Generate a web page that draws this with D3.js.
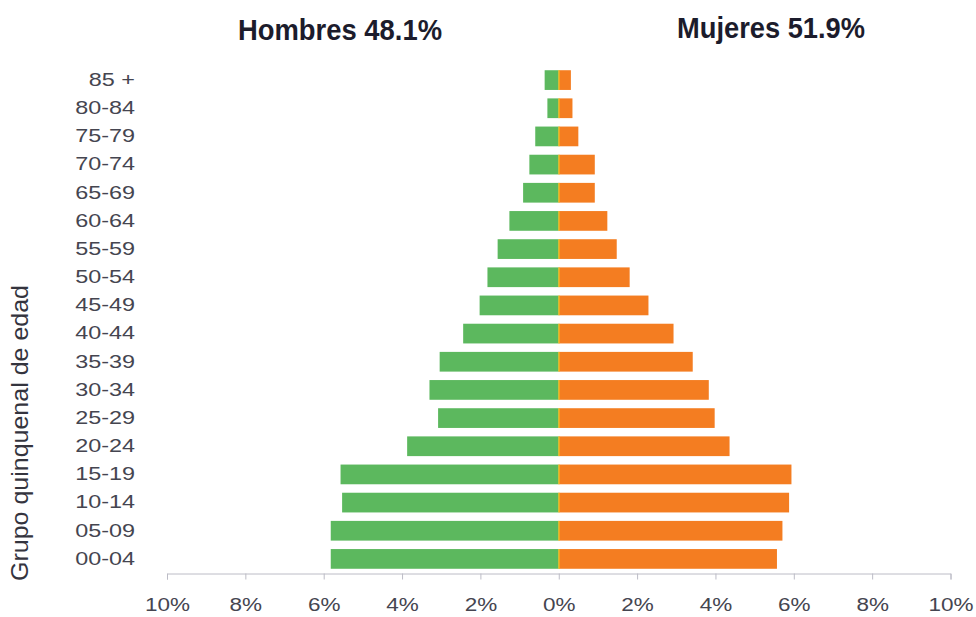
<!DOCTYPE html>
<html>
<head>
<meta charset="utf-8">
<script src="https://cdn.jsdelivr.net/npm/d3@7"></script>
<style>
  html, body { margin: 0; padding: 0; background: #ffffff; }
  svg { display: block; font-family: "Liberation Sans", Arial, sans-serif; }
</style>
</head>
<body>
<svg id="chart" width="976" height="617"></svg>
<script>
// ---- data ----
const ageGroups = ["85 +", "80-84", "75-79", "70-74", "65-69", "60-64", "55-59", "50-54", "45-49",
                   "40-44", "35-39", "30-34", "25-29", "20-24", "15-19", "10-14", "05-09", "00-04"];
const menValues   = [0.36, 0.29, 0.60, 0.75, 0.91, 1.26, 1.56, 1.82, 2.02,
                     2.44, 3.04, 3.30, 3.08, 3.87, 5.57, 5.53, 5.82, 5.82];
const womenValues = [0.31, 0.35, 0.50, 0.92, 0.92, 1.24, 1.48, 1.81, 2.29,
                     2.93, 3.42, 3.83, 3.98, 4.36, 5.94, 5.88, 5.71, 5.57];
const xTicks = [-10, -8, -6, -4, -2, 0, 2, 4, 6, 8, 10];
const titleMen = "Hombres 48.1%";
const titleWomen = "Mujeres 51.9%";
const yTitle = "Grupo quinquenal de edad";

// ---- layout ----
const svg = d3.select("#chart");
const axisY = 573.5;
const x = d3.scaleLinear().domain([-10, 10]).range([167, 950.5]);
const y = d3.scaleBand().domain(ageGroups).range([66, 573]).paddingInner(0.3).paddingOuter(0.15);

const green = "#5cb85e";
const orange = "#f47d21";

// bars - men
svg.append("g").selectAll("rect")
  .data(ageGroups.map((g, i) => ({ g, v: menValues[i] })))
  .join("rect")
  .attr("x", d => x(-d.v))
  .attr("y", d => y(d.g))
  .attr("width", d => x(0) - x(-d.v))
  .attr("height", y.bandwidth())
  .attr("fill", green);

// bars - women
svg.append("g").selectAll("rect")
  .data(ageGroups.map((g, i) => ({ g, v: womenValues[i] })))
  .join("rect")
  .attr("x", x(0))
  .attr("y", d => y(d.g))
  .attr("width", d => x(d.v) - x(0))
  .attr("height", y.bandwidth())
  .attr("fill", orange);

// thin yellowish seam at the centre of each bar
svg.append("g").selectAll("rect")
  .data(ageGroups)
  .join("rect")
  .attr("x", x(0) - 0.5)
  .attr("y", d => y(d))
  .attr("width", 1.5)
  .attr("height", y.bandwidth())
  .attr("fill", "#f2c21a")
  .attr("opacity", 0.8);

// x axis
const xAxis = svg.append("g")
  .attr("transform", `translate(0,${axisY})`)
  .call(d3.axisBottom(x).tickValues(xTicks).tickFormat(d => Math.abs(d) + "%").tickSize(6).tickSizeOuter(6));
xAxis.select(".domain").attr("stroke", "#bcbcc6").attr("stroke-width", 1);
xAxis.selectAll(".tick line").attr("stroke", "#bcbcc6");
xAxis.selectAll(".tick text")
  .attr("y", 38)
  .attr("dy", 0)
  .attr("font-size", 18)
  .attr("fill", "#454550")
  .attr("transform", "scale(1.25,1)");

// y axis labels
const yAxis = svg.append("g")
  .attr("transform", "translate(135,0)")
  .call(d3.axisLeft(y).tickSize(0).tickPadding(0));
yAxis.select(".domain").remove();
yAxis.selectAll(".tick text")
  .attr("font-size", 18)
  .attr("fill", "#454550")
  .attr("transform", "scale(1.3,1)");

// titles
svg.append("text")
  .attr("x", 238).attr("y", 40)
  .attr("font-size", 30).attr("font-weight", "bold")
  .attr("fill", "#1c1c2c")
  .attr("textLength", 204).attr("lengthAdjust", "spacingAndGlyphs")
  .text(titleMen);
svg.append("text")
  .attr("x", 677).attr("y", 38)
  .attr("font-size", 30).attr("font-weight", "bold")
  .attr("fill", "#1c1c2c")
  .attr("textLength", 188).attr("lengthAdjust", "spacingAndGlyphs")
  .text(titleWomen);

// y title
svg.append("text")
  .attr("transform", "translate(28,433) rotate(-90)")
  .attr("text-anchor", "middle")
  .attr("font-size", 24)
  .attr("fill", "#34343e")
  .attr("textLength", 296).attr("lengthAdjust", "spacingAndGlyphs")
  .text(yTitle);
</script>
</body>
</html>
